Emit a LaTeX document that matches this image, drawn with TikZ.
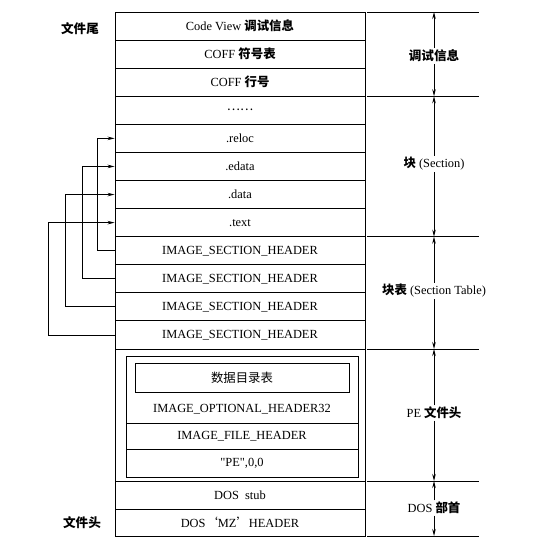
\documentclass[tikz,border=0pt]{standalone}
\usepackage{fontspec}
\setmainfont{Liberation Serif}
\newfontfamily\rawserif{Liberation Serif}[Ligatures=ResetAll]
\newfontfamily\cjk{Noto Sans CJK SC}
\usetikzlibrary{arrows.meta}
\begin{document}
\begin{tikzpicture}[x=1pt,y=-1pt,
  font=\fontsize{12.4}{14}\selectfont,
  rowbox/.style={draw,line width=0.9pt,minimum width=250pt,minimum height=28.083pt,inner sep=0pt},
  plain/.style={inner sep=0pt},
  cj/.style={font=\fontsize{12.6}{14}\selectfont\cjk\bfseries},
  side/.style={inner sep=1.5pt,fill=white},
  arr/.style={line width=0.8pt,-{Stealth[length=7pt,width=3.5pt]}},
  darr/.style={line width=0.8pt,-{Stealth[length=7pt,width=3.5pt]}},
  sep/.style={line width=0.9pt}]
\useasboundingbox (0,0) rectangle (547,553);
\def\hh{28.083}
% main rows
\node[rowbox] (r0) at (240,{12+0.5*\hh}) {Code View {\cjk\bfseries 调试信息}};
\node[rowbox] (r1) at (240,{12+1.5*\hh}) {COFF {\cjk\bfseries 符号表}};
\node[rowbox] (r2) at (240,{12+2.5*\hh}) {COFF {\cjk\bfseries 行号}};
\node[rowbox] (r3) at (240,{12+3.5*\hh}) {{\cjk ……}};
\node[rowbox] (reloc) at (240,{12+4.5*\hh}) {.reloc};
\node[rowbox] (edata) at (240,{12+5.5*\hh}) {.edata};
\node[rowbox] (data) at (240,{12+6.5*\hh}) {.data};
\node[rowbox] (text) at (240,{12+7.5*\hh}) {.text};
\node[rowbox] (h1) at (240,{12+8.5*\hh}) {IMAGE\_SECTION\_HEADER};
\node[rowbox] (h2) at (240,{12+9.5*\hh}) {IMAGE\_SECTION\_HEADER};
\node[rowbox] (h3) at (240,{12+10.5*\hh}) {IMAGE\_SECTION\_HEADER};
\node[rowbox] (h4) at (240,{12+11.5*\hh}) {IMAGE\_SECTION\_HEADER};
% PE header block
\node[rowbox,minimum height=132pt] (pe) at (240,415) {};
\node[draw,line width=0.9pt,minimum width=232pt,minimum height=121pt,inner sep=0pt] (pein) at (242,416.5) {};
\node[draw,line width=0.9pt,minimum width=214pt,minimum height=29pt,inner sep=0pt] (dir) at (242,377.5) {{\cjk 数据目录表}};
\node[plain] (opt) at (242,409) {IMAGE\_OPTIONAL\_HEADER32};
\node[draw,line width=0.9pt,minimum width=232pt,minimum height=26pt,inner sep=0pt] (fh) at (242,436) {IMAGE\_FILE\_HEADER};
\node[plain] (pesig) at (242,463) {{\rawserif"}PE{\rawserif"},0,0};
% DOS blocks
\node[rowbox,minimum height=28pt] (stub) at (240,495) {DOS\ \ stub};
\node[rowbox,minimum height=27pt] (mz) at (240,522.5) {DOS{\cjk ‘}MZ{\cjk ’}HEADER};
% left labels
\node[cj] (tail) at (80,29) {文件尾};
\node[cj] (head) at (82,523) {文件头};
% section pointers
\draw[arr] (h1.west) -- ++(-17,0) |- (reloc.west);
\draw[arr] (h2.west) -- ++(-32,0) |- (edata.west);
\draw[arr] (h3.west) -- ++(-49,0) |- (data.west);
\draw[arr] (h4.west) -- ++(-66,0) |- (text.west);
% right dimension lines
\foreach \yy [count=\i from 0] in {12,96.25,236.7,349,481,536}{
  \coordinate (b\i) at (434,\yy);
  \draw[sep] (367,\yy) -- (479,\yy);
}
\node[side,cj] (l1) at (434,56) {调试信息};
\node[side] (l2) at (434,164) {{\cjk\bfseries 块} (Section)};
\node[side] (l3) at (434,291) {{\cjk\bfseries 块表} (Section Table)};
\node[side] (l4) at (434,413) {PE {\cjk\bfseries 文件头}};
\node[side] (l5) at (434,508) {DOS {\cjk\bfseries 部首}};
\draw[darr] (l1) -- (b0); \draw[darr] (l1) -- (b1);
\draw[darr] (l2) -- (b1); \draw[darr] (l2) -- (b2);
\draw[darr] (l3) -- (b2); \draw[darr] (l3) -- (b3);
\draw[darr] (l4) -- (b3); \draw[darr] (l4) -- (b4);
\draw[darr] (l5) -- (b4); \draw[darr] (l5) -- (b5);
\end{tikzpicture}
\end{document}
